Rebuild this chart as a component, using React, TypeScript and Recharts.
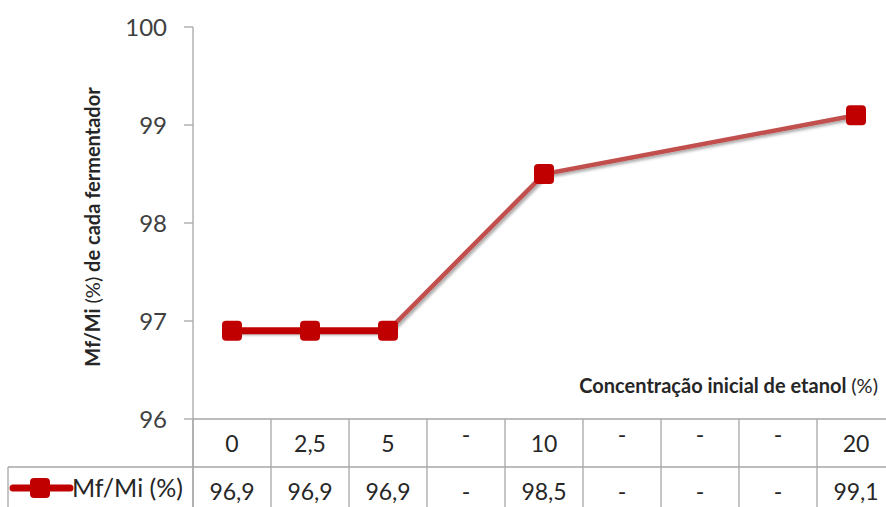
import { LineChart, Line, XAxis, YAxis, Customized } from 'recharts';

const categories = ['0', '2,5', '5', '-', '10', '-', '-', '-', '20'];
const mfMi = [96.9, 96.9, 96.9, null, 98.5, null, null, null, 99.1];
const yTicks = [96, 97, 98, 99, 100];

const fmt = (v: number | null) => (v === null ? '-' : v.toFixed(1).replace('.', ','));

const data = categories.map((c, i) => ({ cat: c, val: fmt(mfMi[i]), v: mfMi[i] }));

const GRID = '#a6a6a6';
const TEXT = '#262626';
const RED = '#c00000';
const FONT = 'Lato, "Open Sans", sans-serif';
const COL = 78;

const CatTick = ({ x, y, payload }: any) => (
  <g>
    <line x1={x - COL / 2} y1={y} x2={x - COL / 2} y2={y + 48} stroke={GRID} strokeWidth={1.3} />
    <text
      x={x}
      y={payload.value === '-' ? y + 16 : y + 25}
      dy="0.35em"
      textAnchor="middle"
      fontSize={23}
      fontFamily={FONT}
      fill={TEXT}
    >
      {payload.value}
    </text>
  </g>
);

const ValTick = ({ x, y, payload }: any) => (
  <g>
    <line x1={x - COL / 2} y1={y} x2={x - COL / 2} y2={y + 45} stroke={GRID} strokeWidth={1.3} />
    <text x={x} y={y + 25} dy="0.35em" textAnchor="middle" fontSize={23} fontFamily={FONT} fill={TEXT}>
      {payload.value}
    </text>
  </g>
);

const Marker = ({ cx, cy, value }: any) => {
  if (value === null || value === undefined || cy == null) return <g />;
  return <rect x={cx - 10} y={cy - 10} width={20} height={20} rx={4} fill={RED} />;
};

const Extras = () => (
  <g>
    <text
      transform="translate(100,227) rotate(-90)"
      textAnchor="middle"
      fontSize={20}
      fontFamily={FONT}
      fontWeight="bold"
      fill={TEXT}
    >
      Mf/Mi <tspan fontWeight="normal">(%)</tspan> de cada fermentador
    </text>
    <text x={878} y={393} textAnchor="end" fontSize={20} fontFamily={FONT} fontWeight="bold" fill={TEXT}>
      Concentração inicial de etanol <tspan fontWeight="normal">(%)</tspan>
    </text>
    <line x1={8} y1={467} x2={193} y2={467} stroke={GRID} strokeWidth={1.3} />
    <line x1={8} y1={467} x2={8} y2={507} stroke={GRID} strokeWidth={1.3} />
    <line x1={193} y1={419} x2={193} y2={507} stroke={GRID} strokeWidth={1.3} />
    <line x1={13} y1={488} x2={70} y2={488} stroke={RED} strokeWidth={7} strokeLinecap="round" />
    <rect x={30} y={478} width={20} height={20} rx={4} fill={RED} />
    <text x={72} y={497} fontSize={25} fontFamily={FONT} fill={TEXT}>
      Mf/Mi (%)
    </text>
  </g>
);

export default function App() {
  return (
    <div style={{ position: 'absolute', left: 0, top: 0, width: 886, height: 507, overflow: 'hidden', background: '#fff' }}>
      <LineChart width={895} height={507} data={data} margin={{ top: 27, right: 0, bottom: 0, left: 0 }}>
        <defs>
          <filter id="sh" x="-10%" y="-10%" width="130%" height="130%">
            <feDropShadow dx={2} dy={2} stdDeviation={1.5} floodColor="#000" floodOpacity={0.35} />
          </filter>
        </defs>
        <XAxis
          xAxisId="cat"
          dataKey="cat"
          padding={{ left: COL / 2, right: COL / 2 }}
          height={48}
          tickSize={0}
          tickMargin={0}
          tickLine={false}
          axisLine={{ stroke: GRID, strokeWidth: 1.3 }}
          tick={<CatTick />}
          interval={0}
        />
        <XAxis
          xAxisId="val"
          dataKey="val"
          padding={{ left: COL / 2, right: COL / 2 }}
          height={40}
          tickSize={0}
          tickMargin={0}
          tickLine={false}
          axisLine={{ stroke: GRID, strokeWidth: 1.3 }}
          tick={<ValTick />}
          interval={0}
        />
        <YAxis
          width={193}
          domain={[96, 100]}
          ticks={yTicks}
          allowDataOverflow
          tickSize={9}
          tickMargin={17}
          axisLine={{ stroke: GRID, strokeWidth: 1.3 }}
          tickLine={{ stroke: GRID, strokeWidth: 1.3 }}
          tick={{ fontSize: 24, fill: '#404040', fontFamily: FONT }}
        />
        <Line
          xAxisId="cat"
          dataKey="v"
          connectNulls
          stroke="#c0504d"
          strokeWidth={4.5}
          dot={false}
          activeDot={false}
          filter="url(#sh)"
          isAnimationActive={false}
        />
        <Line
          xAxisId="cat"
          dataKey="v"
          connectNulls={false}
          stroke={RED}
          strokeWidth={7}
          dot={<Marker />}
          activeDot={false}
          isAnimationActive={false}
        />
        <Customized component={<Extras />} />
      </LineChart>
    </div>
  );
}
